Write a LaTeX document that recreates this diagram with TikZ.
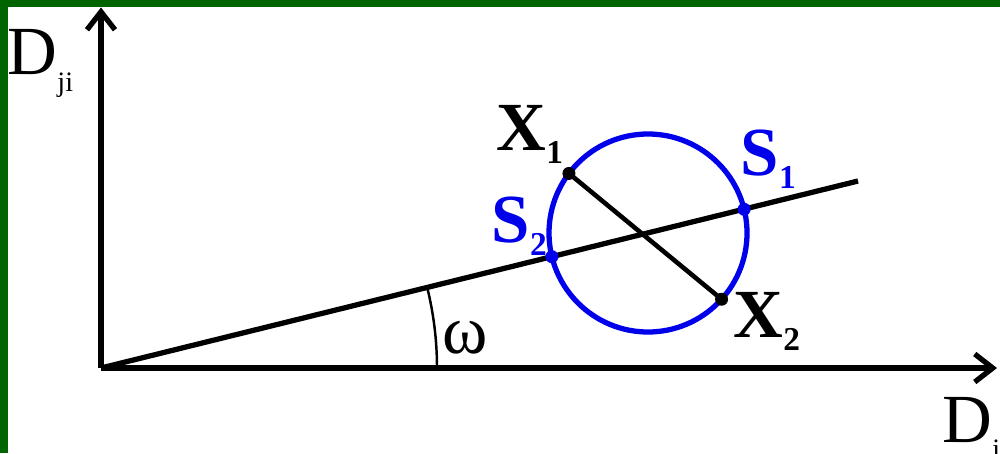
\documentclass[tikz,border=0pt]{standalone}
\usepackage{fontspec}
\setmainfont{Liberation Serif}
\usetikzlibrary{arrows.meta}
\definecolor{frame}{RGB}{0,100,0}
\definecolor{ring}{RGB}{0,0,235}
\newcommand{\dsub}[1]{\raisebox{-0.16cm}{\fontsize{8}{9}\selectfont #1}}
\newcommand{\psub}[1]{\raisebox{-0.13cm}{\fontsize{9.5}{10}\selectfont #1}}

\begin{document}
\begin{tikzpicture}[
  lab/.style={font=\fontsize{19.6}{22}\selectfont,inner sep=0pt,anchor=base west},
  blab/.style={lab,font=\fontsize{19.6}{22}\selectfont\bfseries},
  axis/.style={line width=1.5pt,-{Straight Barb[length=0.18cm,width=0.28cm]}},
  dot/.style={circle,fill,inner sep=0pt,minimum size=0.13cm}]
  \useasboundingbox (0,0) rectangle (10,4.53);
  \fill[frame] (0,0) rectangle (10,4.53);
  \fill[white] (0.08,0) rectangle (10,4.46);
  % points
  \coordinate (O) at (1.01,0.85);
  \coordinate (ytop) at (1.01,4.455);
  \coordinate (xend) at (9.97,0.85);
  \coordinate (C) at (6.48,2.20);
  \coordinate (E) at (8.58,2.72);
  \coordinate (S1) at ([shift={(13.86:0.99)}]C);
  \coordinate (S2) at ([shift={(193.86:0.99)}]C);
  \coordinate (X1) at ([shift={(143:0.99)}]C);
  \coordinate (X2) at ([shift={(-42:0.99)}]C);
  % axes
  \draw[axis] (O) -- (ytop);
  \draw[axis] (O) -- (xend);
  \draw[line width=0.7pt] ([shift={(0:3.36)}]O) arc[start angle=0,end angle=13.86,radius=3.36];
  % circle and lines
  \draw[ring,line width=1.5pt] (C) circle[radius=0.99];
  \draw[line width=1.5pt] (O) -- (E);
  \draw[line width=1.3pt] (X1) -- (X2);
  \node[dot] (p1) at (X1) {};
  \node[dot] (p2) at (X2) {};
  \node[dot,ring] (q1) at (S1) {};
  \node[dot,ring] (q2) at (S2) {};
  % labels
  \node[lab] (Dji) at (0.07,3.78) {D\dsub{ji}};
  \node[lab] (Di) at (9.42,0.11) {D\dsub{i}};
  \node[lab] (om) at (4.42,1.0) {ω};
  \node[blab] (lX1) at (4.96,3.03) {X\psub{1}};
  \node[blab] (lX2) at (7.33,1.16) {X\psub{2}};
  \node[blab,ring] (lS1) at (7.40,2.78) {S\psub{1}};
  \node[blab,ring] (lS2) at (4.91,2.11) {S\psub{2}};
\end{tikzpicture}
\end{document}
